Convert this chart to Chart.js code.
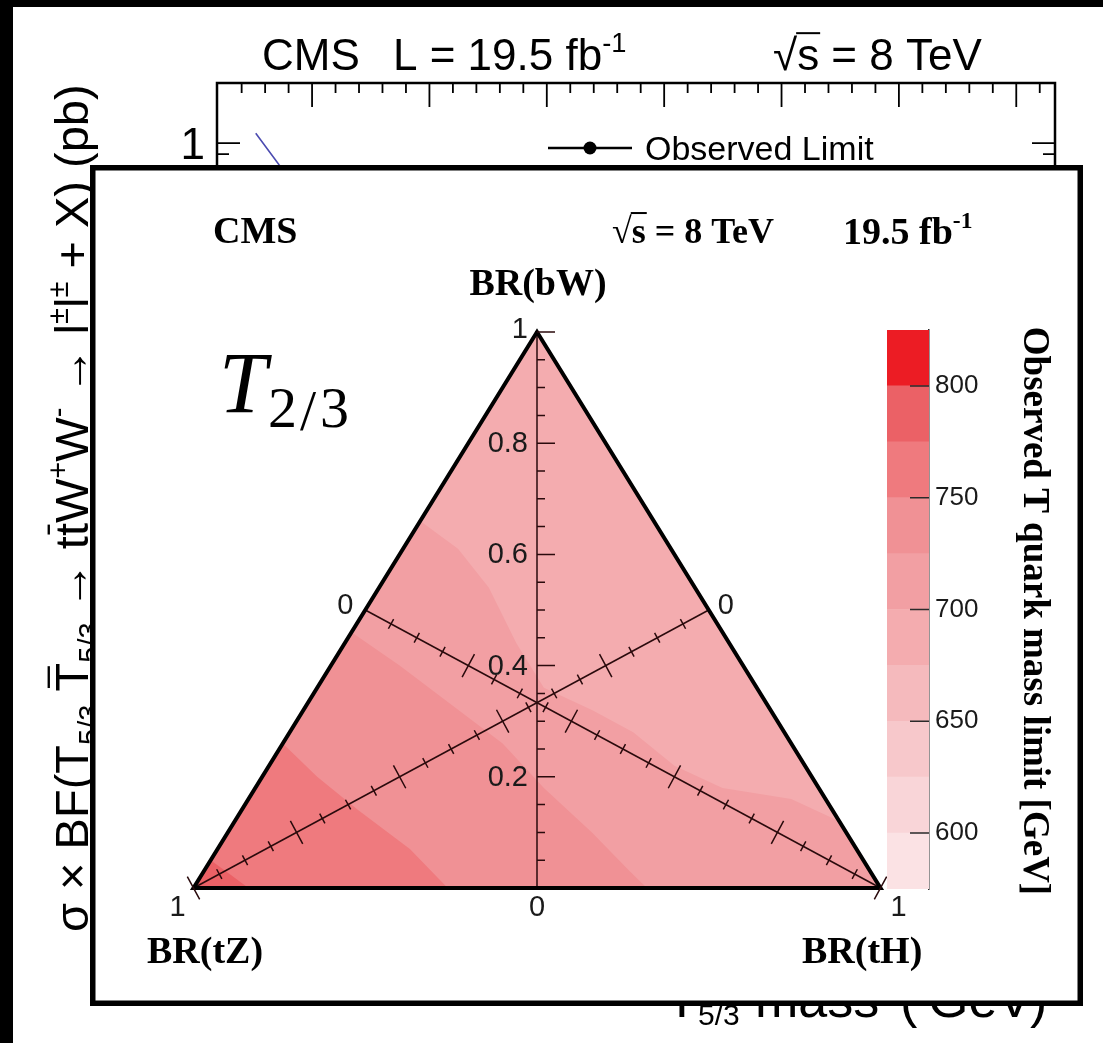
<!DOCTYPE html>
<html lang="en">
<head>
<meta charset="utf-8">
<title>Observed T quark mass limit</title>
<script src="https://cdn.jsdelivr.net/npm/chart.js@4.4.0/dist/chart.umd.min.js"></script>
<style>
    html, body { margin: 0; padding: 0; background: #ffffff; }
    #stage { position: relative; width: 1103px; height: 1043px; overflow: hidden; }
    #stage canvas { position: absolute; left: 0; top: 0; }
</style>
</head>
<body>
<div id="stage">
    <canvas id="xsec_chart" width="1103" height="1043"></canvas>
    <canvas id="ternary_chart" width="1103" height="1043"></canvas>
    <canvas id="palette_chart" width="1103" height="1043"></canvas>
</div>
<script>
// T5/3 cross-section plot sitting behind the ternary panel
const massRange = [419, 1133];
const xsecRange = [0.001, 1.78];
const theoryMass = [452, 472, 500, 540];
const theoryXsec = [1.10, 0.81, 0.55, 0.33];
const xsecTickLabels = [1];

// observed limit contours, each point is [BR(bW), BR(tH)]
const contourLevels = [675, 700, 725, 750, 775];
const contour675 = [[0, 0], [1, 0], [0, 1]];
const contour700 = [[0.66, 0], [0.61, 0.08], [0.54, 0.16], [0.44, 0.25], [0.36, 0.33], [0.32, 0.42],
    [0.28, 0.50], [0.22, 0.59], [0.18, 0.68], [0.16, 0.79], [0.12, 0.88], [0, 1], [0, 0]];
const contour725 = [[0.46, 0], [0.40, 0.10], [0.33, 0.21], [0.26, 0.32], [0.18, 0.42], [0.10, 0.53],
    [0.03, 0.62], [0, 0.66], [0, 0]];
const contour750 = [[0.26, 0], [0.20, 0.08], [0.14, 0.17], [0.07, 0.28], [0, 0.37], [0, 0]];
const contour775 = [[0.05, 0], [0.025, 0.04], [0, 0.08], [0, 0]];
const contours = [contour675, contour700, contour725, contour750, contour775];

const ternaryTickLabels = [0.2, 0.4, 0.6, 0.8, 1];
const ternaryMinorStep = 0.05;

// colour scale of the mass limit
const paletteLevels = [575, 600, 625, 650, 675, 700, 725, 750, 775, 800];
const paletteColors = ['#fbe2e4', '#f9d5d8', '#f7c8cb', '#f5babd', '#f4acaf',
    '#f29fa3', '#f09195', '#ef7a7e', '#eb6166', '#ec1c24'];
const paletteTop = 825;
const paletteTicks = [600, 650, 700, 750, 800];

const SANS = '"Liberation Sans", Arial, Helvetica, sans-serif';
const SERIF = '"Liberation Serif", "Times New Roman", serif';

// draws text pieces with sub/superscripts, starting at the current origin
function richText(ctx, parts, size, family, weight) {
    let x = 0;
    parts.forEach(function (p) {
        const mode = p[1] || 0;
        const s = mode ? size * 0.62 : size;
        ctx.font = weight + ' ' + s + 'px ' + family;
        const dy = mode === 1 ? -size * 0.42 : (mode === -1 ? size * 0.24 : 0);
        const w = ctx.measureText(p[0]).width;
        ctx.fillText(p[0], x, dy);
        if (p[2] === 'bar') {
            ctx.fillRect(x + w * 0.12, dy - size * 0.86, w * 0.76, Math.max(2, size * 0.05));
        }
        if (p[2] === 'root') {
            ctx.fillRect(x - 1, dy - size * 0.86, w + 2, Math.max(2, size * 0.045));
        }
        x += w;
    });
    return x;
}

function toXY(p) {
    return {x: 2 * p[1] + p[0] - 1, y: p[0]};
}

function colorForLevel(level) {
    return paletteColors[paletteLevels.indexOf(level)];
}

// ---------------- background cross-section plot ----------------
const xsecFrame = {
    id: 'xsecFrame',
    beforeDraw(chart) {
        const ctx = chart.ctx;
        ctx.save();
        ctx.fillStyle = '#000';
        ctx.fillRect(0, 0, 13, chart.height);
        ctx.fillRect(0, 0, chart.width, 7);
        ctx.restore();
    },
    afterDraw(chart) {
        const ctx = chart.ctx;
        const a = chart.chartArea;
        const x = chart.scales.x, y = chart.scales.y;
        ctx.save();
        ctx.strokeStyle = '#000';
        ctx.lineWidth = 2.5;
        ctx.strokeRect(a.left, a.top, a.right - a.left, a.bottom - a.top);

        ctx.lineWidth = 1.8;
        ctx.beginPath();
        for (let m = 440; m < massRange[1]; m += 20) {
            const px = x.getPixelForValue(m);
            const len = m % 100 === 0 ? 24 : 10;
            ctx.moveTo(px, a.top);
            ctx.lineTo(px, a.top + len);
            ctx.moveTo(px, a.bottom);
            ctx.lineTo(px, a.bottom - len);
        }
        for (let e = -3; e <= 0; e++) {
            for (let k = 1; k <= 9; k++) {
                const v = k * Math.pow(10, e);
                if (v < xsecRange[0] || v > xsecRange[1]) continue;
                const py = y.getPixelForValue(v);
                const len = k === 1 ? 23 : 12;
                ctx.moveTo(a.left, py);
                ctx.lineTo(a.left + len, py);
                ctx.moveTo(a.right, py);
                ctx.lineTo(a.right - len, py);
            }
        }
        ctx.stroke();

        ctx.fillStyle = '#000';
        ctx.font = '44px ' + SANS;
        ctx.textAlign = 'right';
        ctx.textBaseline = 'middle';
        xsecTickLabels.forEach(function (v) {
            ctx.fillText(String(v), a.left - 12, y.getPixelForValue(v) + 4);
        });

        // title line
        ctx.textAlign = 'left';
        ctx.textBaseline = 'alphabetic';
        ctx.font = '44px ' + SANS;
        ctx.fillText('CMS', 262, 70);
        ctx.save();
        ctx.translate(393, 70);
        richText(ctx, [['L = 19.5 fb'], ['-1', 1]], 44, SANS, 'normal');
        ctx.restore();
        ctx.save();
        ctx.translate(773, 70);
        richText(ctx, [['√'], ['s', 0, 'root'], [' = 8 TeV']], 44, SANS, 'normal');
        ctx.restore();

        // legend entry
        ctx.lineWidth = 2.5;
        ctx.beginPath();
        ctx.moveTo(548, 148);
        ctx.lineTo(632, 148);
        ctx.stroke();
        ctx.beginPath();
        ctx.arc(590, 148, 6.5, 0, Math.PI * 2);
        ctx.fill();
        ctx.font = '34px ' + SANS;
        ctx.fillText('Observed Limit', 645, 160);

        // y axis title
        ctx.save();
        ctx.translate(88, 932);
        ctx.rotate(-Math.PI / 2);
        richText(ctx, [['σ × BF(T'], ['5/3', -1], [' '], ['T', 0, 'bar'], ['5/3', -1], [' → t'], ['t', 0, 'bar'],
            ['W'], ['+', 1], ['W'], ['-', 1], [' → l'], ['±', 1], ['l'], ['±', 1], [' + X) (pb)']], 47, SANS, 'normal');
        ctx.restore();

        // x axis title
        ctx.font = '52px ' + SANS;
        ctx.fillText('T', 666, 1017);
        ctx.font = '30px ' + SANS;
        ctx.fillText('5/3', 698, 1025);
        ctx.font = '52px ' + SANS;
        ctx.fillText('mass', 755, 1017);
        ctx.fillText('(', 900, 1017);
        ctx.fillText('GeV', 928, 1017);
        ctx.fillText(')', 1030, 1017);
        ctx.restore();
    }
};

new Chart(document.getElementById('xsec_chart'), {
    type: 'line',
    data: {
        datasets: [{
            label: 'Theory',
            data: theoryMass.map(function (m, i) { return {x: m, y: theoryXsec[i]}; }),
            borderColor: '#4b4bb0',
            borderWidth: 1.6,
            pointRadius: 0,
            fill: false
        }]
    },
    options: {
        responsive: false,
        animation: false,
        layout: {padding: {left: 217, right: 48, top: 83, bottom: 180}},
        scales: {
            x: {type: 'linear', min: massRange[0], max: massRange[1], display: false},
            y: {type: 'logarithmic', min: xsecRange[0], max: xsecRange[1], display: false}
        },
        plugins: {legend: {display: false}, tooltip: {enabled: false}}
    },
    plugins: [xsecFrame]
});

// ---------------- ternary panel ----------------
function ternaryPixel(chart, b, h) {
    return [chart.scales.x.getPixelForValue(2 * h + b - 1), chart.scales.y.getPixelForValue(b)];
}

function isMajor(v) {
    return Math.abs(v * 5 - Math.round(v * 5)) < 1e-6;
}

const ternaryDecor = {
    id: 'ternaryDecor',
    beforeDraw(chart) {
        const ctx = chart.ctx;
        ctx.save();
        ctx.fillStyle = '#fff';
        ctx.fillRect(90, 165, 993, 841);
        ctx.strokeStyle = '#000';
        ctx.lineWidth = 5.5;
        ctx.strokeRect(92.75, 167.75, 987.5, 835.5);
        ctx.restore();
    },
    afterDatasetsDraw(chart) {
        const ctx = chart.ctx;
        ctx.save();
        ctx.strokeStyle = '#2a0a0c';
        ctx.lineWidth = 1.5;
        ctx.beginPath();
        const steps = Math.round(1 / ternaryMinorStep);
        // ticks across the two medians
        [
            function (v) { return [(1 - v) / 2, (1 - v) / 2]; },
            function (v) { return [(1 - v) / 2, v]; }
        ].forEach(function (along) {
            const p0 = ternaryPixel(chart, along(1)[0], along(1)[1]);
            const p1 = ternaryPixel(chart, along(0)[0], along(0)[1]);
            const dx = p1[0] - p0[0], dy = p1[1] - p0[1];
            const len = Math.hypot(dx, dy);
            const nx = -dy / len, ny = dx / len;
            for (let i = 1; i <= steps; i++) {
                const v = i * ternaryMinorStep;
                const q = along(v);
                const p = ternaryPixel(chart, q[0], q[1]);
                const half = isMajor(v) ? 13 : 5.5;
                ctx.moveTo(p[0] - nx * half, p[1] - ny * half);
                ctx.lineTo(p[0] + nx * half, p[1] + ny * half);
            }
        });
        // ticks on the BR(bW) axis
        for (let i = 1; i <= steps; i++) {
            const v = i * ternaryMinorStep;
            const p = ternaryPixel(chart, v, (1 - v) / 2);
            ctx.moveTo(p[0], p[1]);
            ctx.lineTo(p[0] + (isMajor(v) ? 18 : 8), p[1]);
        }
        ctx.stroke();
        ctx.restore();
    },
    afterDraw(chart) {
        const ctx = chart.ctx;
        ctx.save();
        ctx.fillStyle = '#1a1a1a';
        ctx.font = '29px ' + SANS;
        ctx.textBaseline = 'middle';
        ctx.textAlign = 'right';
        ternaryTickLabels.forEach(function (v) {
            const p = ternaryPixel(chart, v, (1 - v) / 2);
            if (v === 1) {
                ctx.fillText('1', p[0] - 9, p[1] - 2);
            } else {
                ctx.fillText(v.toFixed(1), p[0] - 9, p[1] + 1);
            }
        });
        ctx.textAlign = 'center';
        let p = ternaryPixel(chart, 0, 0.5);
        ctx.fillText('0', p[0], p[1] + 20);
        p = ternaryPixel(chart, 0, 0);
        ctx.fillText('1', p[0] - 16, p[1] + 20);
        p = ternaryPixel(chart, 0, 1);
        ctx.fillText('1', p[0] + 18, p[1] + 20);
        p = ternaryPixel(chart, 0.5, 0.5);
        ctx.fillText('0', p[0] + 17, p[1] - 4);
        p = ternaryPixel(chart, 0.5, 0);
        ctx.fillText('0', p[0] - 20, p[1] - 4);

        // headers and corner labels
        ctx.fillStyle = '#000';
        ctx.textBaseline = 'alphabetic';
        ctx.textAlign = 'left';
        ctx.font = 'bold 38px ' + SERIF;
        ctx.fillText('CMS', 213, 243);
        ctx.save();
        ctx.translate(612, 243);
        richText(ctx, [['√'], ['s', 0, 'root'], [' = 8 TeV']], 36, SERIF, 'bold');
        ctx.restore();
        ctx.save();
        ctx.translate(843, 244);
        richText(ctx, [['19.5 fb'], ['-1', 1]], 38, SERIF, 'bold');
        ctx.restore();
        ctx.font = 'bold 38px ' + SERIF;
        ctx.textAlign = 'center';
        ctx.fillText('BR(bW)', 538, 295);
        ctx.textAlign = 'left';
        ctx.fillText('BR(tZ)', 147, 963);
        ctx.fillText('BR(tH)', 802, 963);

        // particle label
        ctx.font = 'italic 86px ' + SERIF;
        ctx.fillText('T', 219, 412);
        ctx.font = '58px ' + SERIF;
        ctx.fillText('2', 268, 427);
        ctx.fillText('/', 300, 430);
        ctx.fillText('3', 320, 427);

        // colour scale title
        ctx.save();
        ctx.translate(1024, 611);
        ctx.rotate(Math.PI / 2);
        ctx.textAlign = 'center';
        ctx.font = 'bold 37px ' + SERIF;
        ctx.fillText('Observed T quark mass limit [GeV]', 0, 0);
        ctx.restore();
        ctx.restore();
    }
};

const vertexPath = [[0, 0], [1, 0], [0, 1], [0, 0], [1, 0]];
const ternarySets = contours.map(function (c, i) {
    return {
        label: String(contourLevels[i]),
        data: c.map(toXY),
        backgroundColor: colorForLevel(contourLevels[i]),
        borderColor: colorForLevel(contourLevels[i]),
        borderWidth: 0,
        fill: 'shape',
        pointRadius: 0,
        clip: false,
        order: 50 - i
    };
});
ternarySets.push({
    label: 'BR(bW) axis',
    data: [toXY([0, 0.5]), toXY([1, 0])],
    borderColor: '#2a0a0c', borderWidth: 1.5, fill: false, pointRadius: 0, clip: false, order: 3
});
ternarySets.push({
    label: 'BR(tZ) axis',
    data: [toXY([0, 0]), toXY([0.5, 0.5])],
    borderColor: '#2a0a0c', borderWidth: 1.5, fill: false, pointRadius: 0, clip: false, order: 3
});
ternarySets.push({
    label: 'BR(tH) axis',
    data: [toXY([0, 1]), toXY([0.5, 0])],
    borderColor: '#2a0a0c', borderWidth: 1.5, fill: false, pointRadius: 0, clip: false, order: 3
});
ternarySets.push({
    label: 'outline',
    data: vertexPath.map(toXY),
    borderColor: '#000', borderWidth: 4, fill: false, pointRadius: 0, clip: false, order: 2
});

new Chart(document.getElementById('ternary_chart'), {
    type: 'line',
    data: {datasets: ternarySets},
    options: {
        responsive: false,
        animation: false,
        layout: {padding: {left: 193.5, right: 222.5, top: 332, bottom: 155}},
        scales: {
            x: {type: 'linear', min: -1, max: 1, display: false},
            y: {type: 'linear', min: 0, max: 1, display: false}
        },
        plugins: {legend: {display: false}, tooltip: {enabled: false}}
    },
    plugins: [ternaryDecor]
});

// ---------------- colour scale ----------------
const paletteTickMarks = {
    id: 'paletteTickMarks',
    afterDraw(chart) {
        const ctx = chart.ctx;
        const y = chart.scales.y;
        const right = chart.chartArea.right;
        ctx.save();
        ctx.strokeStyle = '#2a2a2a';
        ctx.lineWidth = 1.5;
        ctx.beginPath();
        paletteTicks.forEach(function (v) {
            const py = y.getPixelForValue(v);
            ctx.moveTo(right - 19, py);
            ctx.lineTo(right, py);
        });
        ctx.stroke();
        ctx.restore();
    }
};

new Chart(document.getElementById('palette_chart'), {
    type: 'bar',
    data: {
        labels: [''],
        datasets: paletteLevels.map(function (lvl, i) {
            const hi = i + 1 < paletteLevels.length ? paletteLevels[i + 1] : paletteTop;
            return {
                label: String(lvl),
                data: [[lvl, hi]],
                backgroundColor: paletteColors[i],
                borderWidth: 0,
                grouped: false,
                barPercentage: 1,
                categoryPercentage: 1
            };
        })
    },
    options: {
        responsive: false,
        animation: false,
        layout: {padding: {left: 887, right: 114, top: 330, bottom: 154}},
        scales: {
            x: {display: false},
            y: {
                position: 'right',
                min: paletteLevels[0],
                max: paletteTop,
                afterBuildTicks: function (scale) {
                    scale.ticks = paletteTicks.map(function (v) { return {value: v}; });
                },
                afterFit: function (scale) { scale.width = 60; },
                grid: {display: false, drawTicks: false},
                border: {display: true, color: '#2a2a2a', width: 1.5},
                ticks: {color: '#1a1a1a', padding: 6, font: {family: SANS, size: 26}}
            }
        },
        plugins: {legend: {display: false}, tooltip: {enabled: false}}
    },
    plugins: [paletteTickMarks]
});
</script>
</body>
</html>
